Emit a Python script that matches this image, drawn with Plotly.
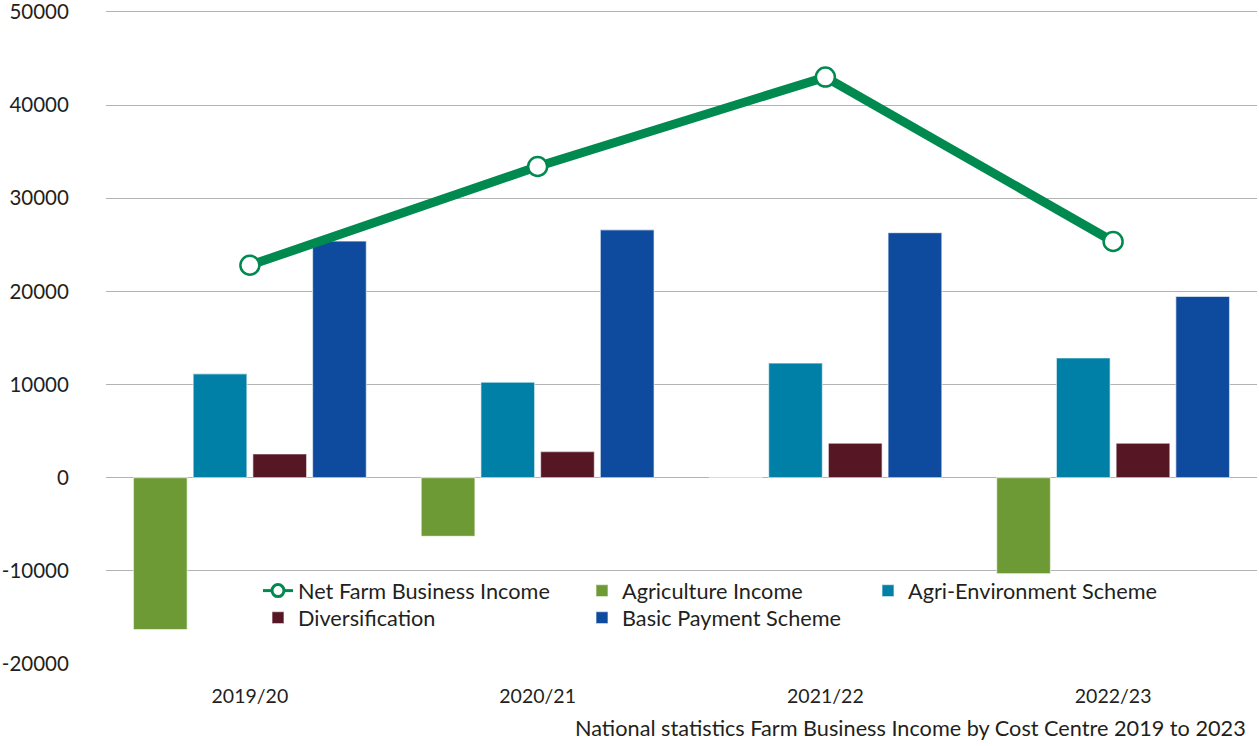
import plotly.graph_objects as go

# Farm Business Income by cost centre, £ per farm
years = ["2019/20", "2020/21", "2021/22", "2022/23"]
net_farm_income = [22800, 33400, 43000, 25350]
agriculture = [-16300, -6300, 0, -10300]
agri_environment = [11150, 10250, 12300, 12850]
diversification = [2550, 2800, 3700, 3700]
basic_payment = [25400, 26600, 26300, 19450]

y_ticks = [-20000, -10000, 0, 10000, 20000, 30000, 40000, 50000]
caption = "National statistics Farm Business Income by Cost Centre 2019 to 2023"

FONT = "Lato, 'Open Sans', sans-serif"
TEXT = "#231f20"
GRID = "#b3b3b3"
LINE_GREEN = "#008a50"
bar_edge = dict(color="rgba(255,255,255,0.55)", width=1.2)

W, H = 1259, 746
ML, MR, MT, MB = 106, 2, 10, 82
PW, PH = W - ML - MR, H - MT - MB
LEG_FONT = 21.7


def px_to_paper(px, py):
    return (px - ML) / PW, (H - MB - py) / PH


# one legend box per entry: (legend id, left of text in px, row centre in px)
legend_slots = {
    "legend": (298, 592),
    "legend2": (622, 592),
    "legend3": (908, 592),
    "legend4": (298, 619),
    "legend5": (622, 619),
}

fig = go.Figure()

bar_series = [
    ("Agriculture Income", agriculture, "#6e9a35", "legend2"),
    ("Agri-Environment Scheme", agri_environment, "#0080a6", "legend3"),
    ("Diversification", diversification, "#561624", "legend4"),
    ("Basic Payment Scheme", basic_payment, "#0e4a9d", "legend5"),
]

for name, vals, col, leg in bar_series:
    fig.add_trace(go.Bar(
        x=years, y=vals, name=name, marker=dict(color=col, line=bar_edge),
        legend=leg,
    ))

# net income line drawn last so it sits on top of the bars
fig.add_trace(go.Scatter(
    x=years, y=net_farm_income, name="Net Farm Business Income",
    mode="lines+markers",
    line=dict(color=LINE_GREEN, width=9),
    marker=dict(size=19, color="white", line=dict(color=LINE_GREEN, width=2.5)),
    showlegend=False,
))
# slimmer key for the legend
fig.add_trace(go.Scatter(
    x=[None], y=[None], name="Net Farm Business Income",
    mode="lines+markers",
    line=dict(color=LINE_GREEN, width=3),
    marker=dict(size=12, color="white", line=dict(color=LINE_GREEN, width=3)),
    legend="legend",
))

legends = {}
for key, (tx, cy) in legend_slots.items():
    lx, ly = px_to_paper(tx - 40, cy - 22)
    legends[key] = dict(
        xref="paper", yref="paper", xanchor="left", yanchor="top",
        x=lx, y=ly,
        orientation="v", bgcolor="rgba(0,0,0,0)",
        font=dict(family=FONT, size=LEG_FONT, color=TEXT),
        itemwidth=30,
    )

cap_x, cap_y = px_to_paper(1248, 728)

fig.update_layout(
    width=W, height=H,
    margin=dict(l=ML, r=MR, t=MT, b=MB, autoexpand=False),
    paper_bgcolor="white", plot_bgcolor="white",
    barmode="group", bargap=0.17, bargroupgap=0.1,
    font=dict(family=FONT, size=18, color=TEXT),
    showlegend=True,
    **legends,
    xaxis=dict(
        type="category", range=[-0.5, 3.5],
        showgrid=False, ticks="outside", ticklen=13, tickcolor="rgba(0,0,0,0)",
        tickfont=dict(family=FONT, size=19.5, color=TEXT),
        showline=True, linecolor="white", linewidth=3, mirror=False,
    ),
    yaxis=dict(
        range=[-20000, 50200], tickvals=y_ticks,
        ticktext=[str(v) for v in y_ticks],
        ticklabeloverflow="allow",
        showgrid=True, gridcolor=GRID, gridwidth=1,
        zeroline=True, zerolinecolor=GRID, zerolinewidth=1,
        ticks="outside", ticklen=32, tickcolor="rgba(0,0,0,0)",
        tickfont=dict(family=FONT, size=20.5, color=TEXT),
    ),
    annotations=[dict(
        text=caption, xref="paper", yref="paper",
        x=cap_x, y=cap_y, xanchor="right", yanchor="middle",
        showarrow=False, font=dict(family=FONT, size=LEG_FONT, color=TEXT),
    )],
)

fig.write_html("out.html")
